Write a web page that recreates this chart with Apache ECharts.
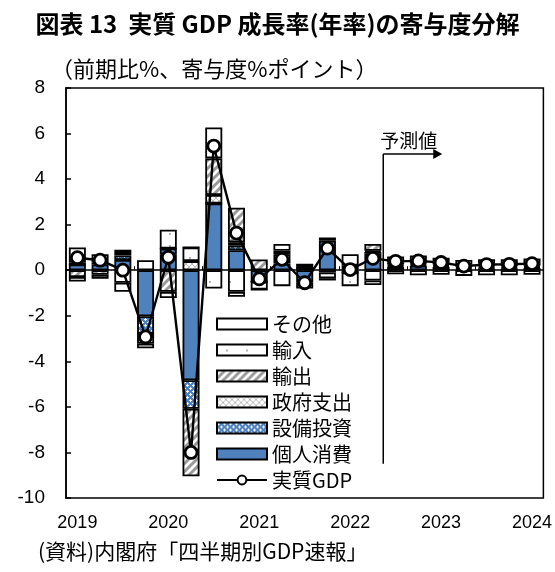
<!DOCTYPE html>
<html>
<head>
<meta charset="utf-8">
<script src="https://cdn.jsdelivr.net/npm/echarts@6/dist/echarts.min.js"></script>
<style>
  html, body { margin: 0; padding: 0; background: #fff; }
  #c { width: 555px; height: 572px; }
</style>
</head>
<body>
<div id="c"></div>
<script>
// Quarters 2019Q1 .. 2024Q1 (from 2022Q3 onward: forecast)
const quarters = [
  '2019Q1','2019Q2','2019Q3','2019Q4',
  '2020Q1','2020Q2','2020Q3','2020Q4',
  '2021Q1','2021Q2','2021Q3','2021Q4',
  '2022Q1','2022Q2','2022Q3','2022Q4',
  '2023Q1','2023Q2','2023Q3','2023Q4',
  '2024Q1'
];
const forecastStart = '2022Q3';

// Contributions, % points
const consumption = [0.25, 0.25, 0.45, -2.02, 0.70, -4.83, 2.93, 0.88, -0.50, 0.30, -0.55, 1.30, -0.10, 0.72, 0.15, 0.20, 0.15, 0.05, 0.08, 0.08, 0.10];
const investment  = [0.00, 0.10, 0.20, -0.76, 0.25, -1.25, 0.00, 0.20, 0.00, 0.15, -0.25, 0.10, 0.00, 0.08, 0.05, 0.05, 0.05, 0.05, 0.05, 0.05, 0.05];
const government  = [0.10, 0.10, 0.15, 0.00, 0.00, 0.40, 0.37, 0.15, 0.00, 0.25, 0.10, 0.00, 0.05, 0.05, 0.05, 0.05, 0.05, 0.05, 0.05, 0.05, 0.05];
const exportsC    = [-0.30, -0.20, 0.10, -0.45, -0.95, -2.97, 1.61, 1.51, 0.47, 0.15, 0.00, -0.10, 0.15, 0.30, 0.10, 0.10, 0.10, 0.10, 0.10, 0.10, 0.10];
const importsC    = [-0.20, -0.17, -0.55, 0.44, 0.83, 0.60, -0.80, -0.95, -0.35, -0.70, 0.15, -0.25, -0.60, -0.45, -0.18, -0.22, -0.20, -0.25, -0.22, -0.22, -0.20];
const others      = [0.65, 0.25, -0.40, -0.20, -0.27, 0.00, 1.36, -0.22, 0.00, 0.30, 0.00, -0.10, 0.50, -0.20, 0.25, 0.25, 0.20, 0.20, 0.20, 0.20, 0.22];
// Real GDP growth, %
const gdp = [0.55, 0.44, 0.00, -2.93, 0.57, -8.00, 5.45, 1.63, -0.38, 0.48, -0.55, 0.97, 0.03, 0.52, 0.39, 0.41, 0.34, 0.18, 0.25, 0.26, 0.29];

// Value axis
const yMin = -10, yMax = 8, yStep = 2;
// Extent of the forecast divider, in axis units
const dividerTop = 5.1, dividerBottom = -8.5;

const FONT_JP = '"Noto Sans CJK JP", sans-serif';
const FONT_NUM = '"Liberation Sans", Arial, sans-serif';
const BLUE = '#4f81bd';

function tile(w, h, draw) {
  const c = document.createElement('canvas');
  c.width = w; c.height = h;
  const g = c.getContext('2d');
  draw(g, w, h);
  return { image: c, repeat: 'repeat' };
}

// Fills
const fillConsumption = BLUE;
const fillInvestment = tile(6, 6, (g, w, h) => {
  g.fillStyle = BLUE; g.fillRect(0, 0, w, h);
  g.fillStyle = 'rgba(255,255,255,0.9)';
  g.fillRect(1, 0, 1, 3); g.fillRect(0, 1, 3, 1);
  g.fillRect(4, 3, 1, 3); g.fillRect(3, 4, 3, 1);
});
const fillGovernment = tile(6, 6, (g, w, h) => {
  g.fillStyle = '#fff'; g.fillRect(0, 0, w, h);
  g.strokeStyle = '#bdbdbd'; g.lineWidth = 1;
  g.beginPath();
  g.moveTo(0, 0); g.lineTo(6, 6);
  g.moveTo(6, 0); g.lineTo(0, 6);
  g.stroke();
});
const fillExports = tile(8, 8, (g, w, h) => {
  g.fillStyle = '#fff'; g.fillRect(0, 0, w, h);
  g.strokeStyle = '#9a9a9a'; g.lineWidth = 3;
  g.beginPath();
  g.moveTo(-2, 10); g.lineTo(10, -2);
  g.moveTo(-6, 6); g.lineTo(6, -6);
  g.moveTo(2, 14); g.lineTo(14, 2);
  g.stroke();
});
const fillImports = tile(20, 12, (g, w, h) => {
  g.fillStyle = '#fff'; g.fillRect(0, 0, w, h);
  g.fillStyle = '#9a9a9a';
  g.beginPath(); g.arc(10, 6, 1, 0, Math.PI * 2); g.fill();
});
const fillOthers = '#fff';

const BAR_W = 17;
function barSeries(name, data, fill) {
  return {
    name, type: 'bar', stack: 'contrib', data, barWidth: BAR_W,
    itemStyle: { color: fill, borderColor: '#000', borderWidth: 1.8 },
    emphasis: { disabled: true }
  };
}

const chart = echarts.init(document.getElementById('c'), null, { renderer: 'canvas' });

const option = {
  animation: false,
  backgroundColor: '#fff',
  title: {
    text: '図表 13  実質 GDP 成長率(年率)の寄与度分解',
    left: 'center', top: 7,
    textStyle: { fontFamily: FONT_JP, fontSize: 24, fontWeight: 'bold', color: '#000' }
  },
  grid: {
    left: 66, right: 10, top: 88, bottom: 74,
    show: true, borderColor: '#000', borderWidth: 1.5, backgroundColor: 'transparent'
  },
  legend: {
    orient: 'vertical', left: 216, top: 314,
    itemWidth: 50, itemHeight: 11, itemGap: 6, padding: 0,
    textStyle: { fontFamily: FONT_JP, fontSize: 20, color: '#000', lineHeight: 20 },
    data: [
      { name: 'その他', icon: 'rect' },
      { name: '輸入', icon: 'rect' },
      { name: '輸出', icon: 'rect' },
      { name: '政府支出', icon: 'rect' },
      { name: '設備投資', icon: 'rect' },
      { name: '個人消費', icon: 'rect' },
      { name: '実質GDP' }
    ]
  },
  xAxis: [
    {
      type: 'category', data: quarters,
      axisLine: { onZero: true, lineStyle: { color: '#000', width: 1.5 } },
      axisTick: { show: true, inside: true, length: 4, lineStyle: { color: '#000', width: 1 } },
      axisLabel: { show: false },
      splitLine: { show: false }
    },
    {
      type: 'category', data: quarters, position: 'bottom',
      axisLine: { show: false, onZero: false }, axisTick: { show: false },
      axisLabel: {
        interval: 0, margin: 16,
        fontFamily: FONT_NUM, fontSize: 18, color: '#000',
        formatter: v => v.endsWith('Q1') ? v.slice(0, 4) : ''
      }
    }
  ],
  yAxis: {
    type: 'value', min: yMin, max: yMax, interval: yStep,
    axisLine: { show: true, lineStyle: { color: '#000', width: 1.5 } },
    axisTick: { show: true, inside: true, length: 5, lineStyle: { color: '#000', width: 1.5 } },
    axisLabel: { fontFamily: FONT_NUM, fontSize: 19, color: '#000', margin: 21 },
    splitLine: { show: false }
  },
  series: [
    barSeries('個人消費', consumption, fillConsumption),
    barSeries('設備投資', investment, fillInvestment),
    barSeries('政府支出', government, fillGovernment),
    barSeries('輸出', exportsC, fillExports),
    barSeries('輸入', importsC, fillImports),
    barSeries('その他', others, fillOthers),
    {
      name: '実質GDP', type: 'line', data: gdp, z: 5,
      symbol: 'circle', symbolSize: 12, showAllSymbol: true,
      lineStyle: { color: '#000', width: 2.4 },
      itemStyle: { color: '#fff', borderColor: '#000', borderWidth: 2.8 },
      emphasis: { disabled: true }
    }
  ]
};

chart.setOption(option);

// Axis caption, source note and the forecast divider
const fi = quarters.indexOf(forecastStart);
const xPrev = chart.convertToPixel({ xAxisIndex: 0 }, quarters[fi - 1]);
const xNext = chart.convertToPixel({ xAxisIndex: 0 }, quarters[fi]);
const dx = (xPrev + xNext) / 2 - 1;
const yTop = chart.convertToPixel({ yAxisIndex: 0 }, dividerTop);
const yBot = chart.convertToPixel({ yAxisIndex: 0 }, dividerBottom);

chart.setOption({
  graphic: [
    {
      type: 'text', left: 51, top: 58,
      style: { text: '（前期比%、寄与度%ポイント）', font: '22px ' + FONT_JP, fill: '#000' }
    },
    {
      type: 'text', left: 38, top: 541,
      style: { text: '(資料)内閣府「四半期別GDP速報」', font: '21px ' + FONT_JP, fill: '#000' }
    },
    {
      type: 'line', z: 10,
      shape: { x1: dx, y1: yTop, x2: dx, y2: yBot },
      style: { stroke: '#000', lineWidth: 1.5 }
    },
    {
      type: 'line', z: 10,
      shape: { x1: dx, y1: yTop, x2: dx + 52, y2: yTop },
      style: { stroke: '#000', lineWidth: 1.5 }
    },
    {
      type: 'polygon', z: 10,
      shape: { points: [[dx + 50, yTop - 5], [dx + 59, yTop], [dx + 50, yTop + 5]] },
      style: { fill: '#000' }
    },
    {
      type: 'text', z: 10, x: dx - 3, y: yTop - 23,
      style: { text: '予測値', font: '19px ' + FONT_JP, fill: '#000' }
    }
  ]
});
</script>
</body>
</html>
